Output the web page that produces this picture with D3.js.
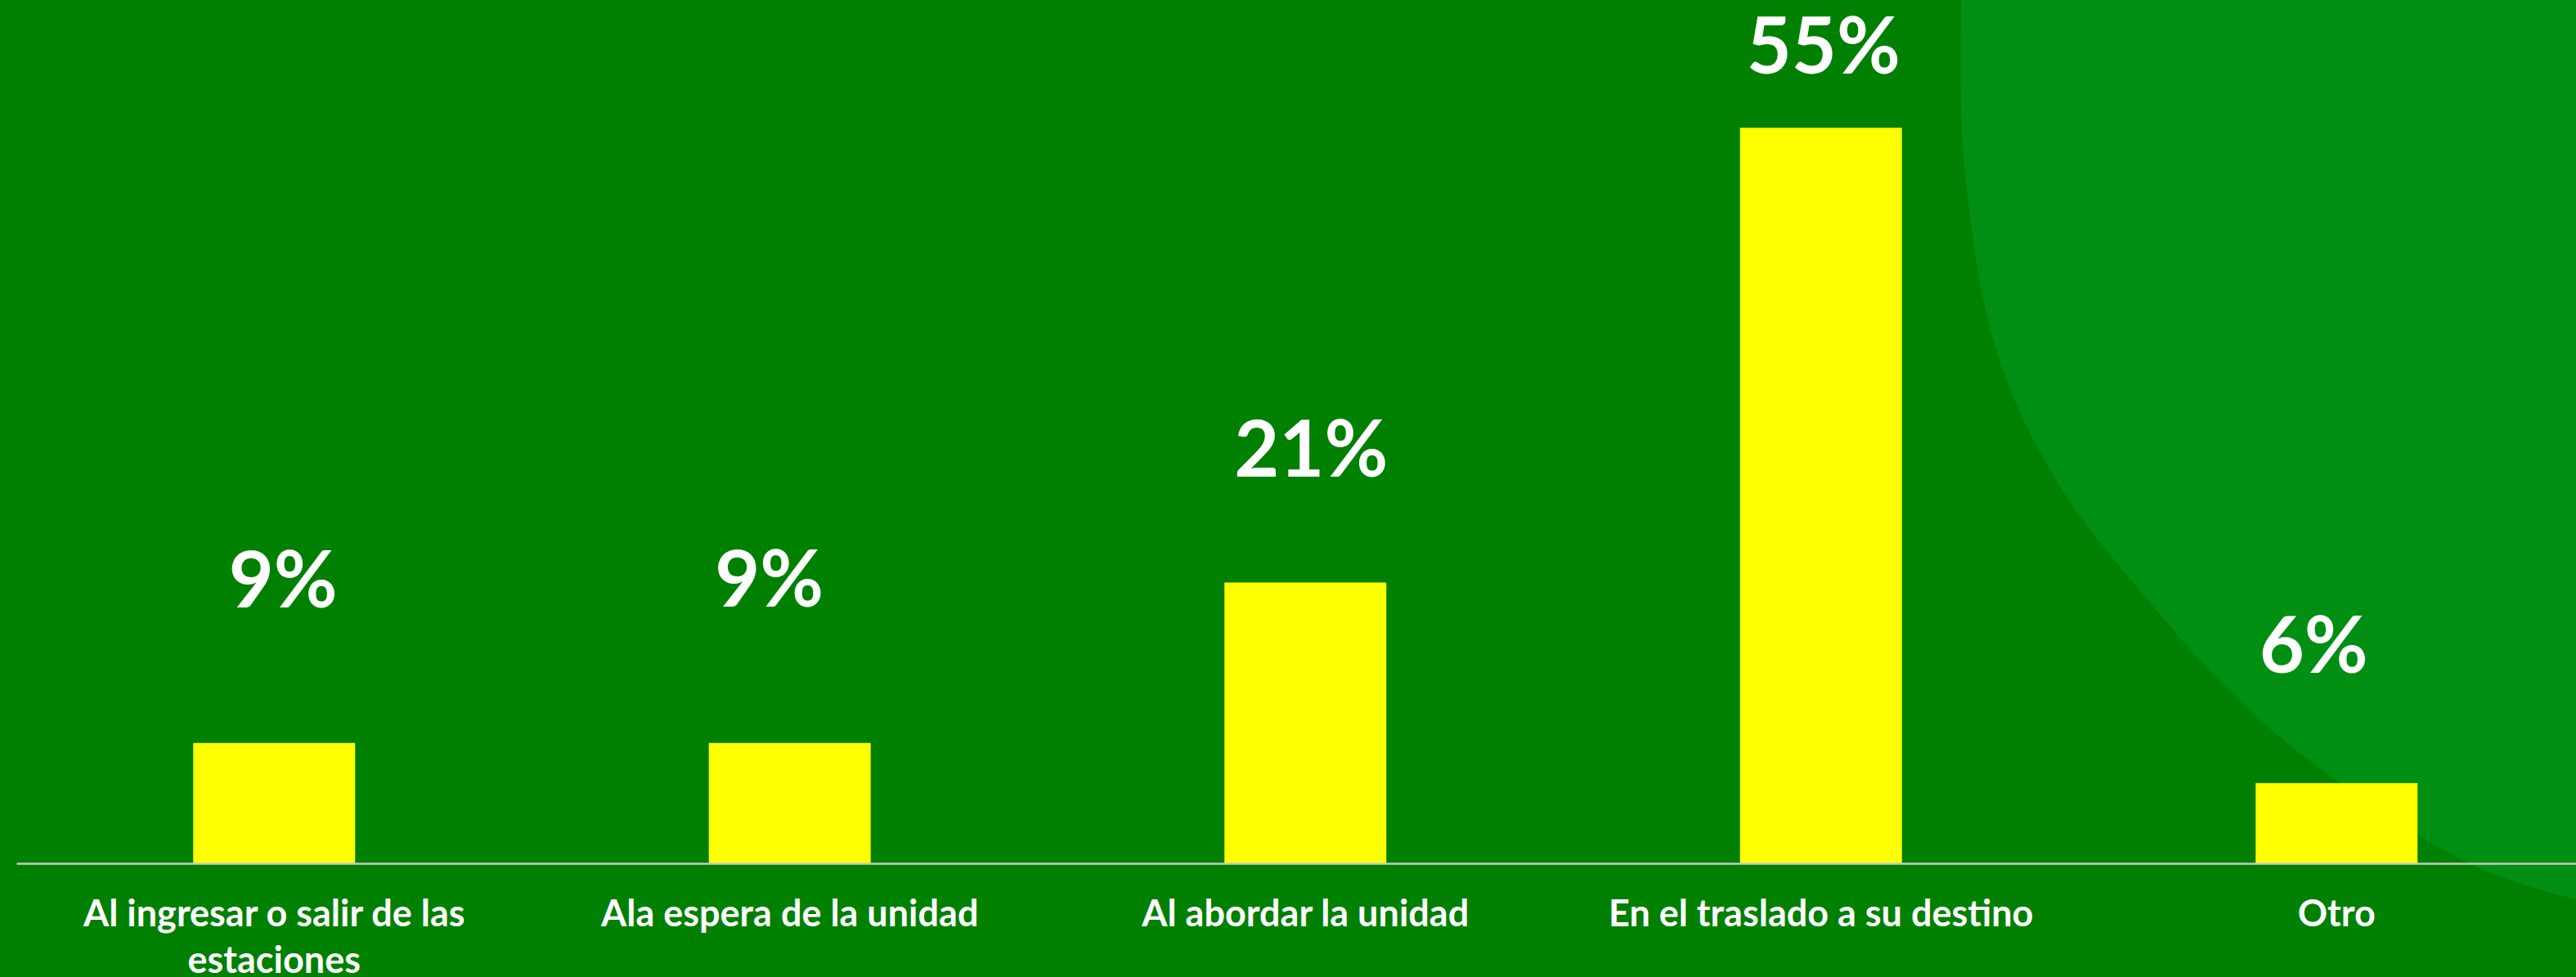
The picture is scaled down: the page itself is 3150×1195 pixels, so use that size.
<!DOCTYPE html>
<html>
<head>
<meta charset="utf-8">
<script src="https://cdn.jsdelivr.net/npm/d3@7"></script>
<style>
    html, body { margin: 0; padding: 0; background: #008000; overflow: hidden; }
    #chart svg { display: block; }
</style>
</head>
<body>
<div id="chart"></div>
<script>
// chart data
const categories = [
    "Al ingresar o salir de las estaciones",
    "Ala espera de la unidad",
    "Al abordar la unidad",
    "En el traslado a su destino",
    "Otro"
];
const values = [9, 9, 21, 55, 6];
const valueLabels = ["9%", "9%", "21%", "55%", "6%"];

// labels were dragged by hand in the original, keep their offsets
const labelDx = [11, -25, 7, 3, -28];
const labelLift = [166, 167, 129, 66, 135];

// decorative lighter shape in the background (top right)
const blobEdge = [
    [2398, 0], [2397, 115], [2400, 191], [2409, 268], [2420, 344], [2437, 421],
    [2465, 497], [2495, 555], [2522, 600], [2551, 643], [2600, 703], [2648, 760],
    [2705, 825], [2793, 910], [2900, 985], [3000, 1050], [3080, 1082], [3150, 1100]
];

function init() {
    const W = 3150, H = 1195;

    const svg = d3.select("#chart")
        .append("svg")
        .attr("width", W)
        .attr("height", H);

    svg.append("rect")
        .attr("width", W)
        .attr("height", H)
        .attr("fill", "#008000");

    // smooth open curve along the edge, then straight back over the corner
    const edgePath = d3.line().curve(d3.curveBasis)(blobEdge);
    svg.append("path")
        .attr("d", edgePath + "L3150,0Z")
        .attr("fill", "#008f12");

    // scales
    const xScale = d3.scaleBand()
        .domain(categories)
        .range([20, 3172.5])
        .paddingInner(0.686)
        .paddingOuter(0.343);

    const yScale = d3.scaleLinear()
        .domain([0, 60])
        .range([1056, 74.5]);

    // bars
    svg.selectAll(".bar")
        .data(values)
        .enter()
        .append("rect")
        .attr("class", "bar")
        .attr("x", (d, i) => xScale(categories[i]))
        .attr("y", d => yScale(d))
        .attr("width", xScale.bandwidth())
        .attr("height", d => yScale(0) - yScale(d))
        .attr("fill", "#ffff00");

    // x axis
    const xAxis = svg.append("g")
        .attr("class", "x axis")
        .attr("transform", `translate(0, ${yScale(0)})`)
        .call(d3.axisBottom(xScale).tickSize(0).tickPadding(0));

    xAxis.select(".domain")
        .attr("stroke", "#c8c8c8")
        .attr("stroke-width", 2.5);

    xAxis.selectAll("text")
        .attr("fill", "#ffffff")
        .style("font-family", "Lato, sans-serif")
        .style("font-weight", "bold")
        .style("font-size", "45px")
        .call(wrap, 560);

    // value labels
    svg.selectAll(".value")
        .data(values)
        .enter()
        .append("text")
        .attr("class", "value")
        .attr("x", (d, i) => xScale(categories[i]) + xScale.bandwidth() / 2 + labelDx[i])
        .attr("y", (d, i) => yScale(d) - labelLift[i])
        .attr("text-anchor", "middle")
        .attr("fill", "#ffffff")
        .style("font-family", "Lato, sans-serif")
        .style("font-weight", "bold")
        .style("font-size", "95px")
        .text((d, i) => valueLabels[i]);
}

// break tick labels on words, first baseline 77px below the axis
function wrap(texts, width) {
    texts.each(function () {
        const text = d3.select(this);
        const words = text.text().split(/\s+/);
        text.text(null).attr("y", 0).attr("dy", null);
        let line = [];
        let lineNo = 0;
        let tspan = text.append("tspan").attr("x", 0).attr("y", 77);
        words.forEach(w => {
            line.push(w);
            tspan.text(line.join(" "));
            if (tspan.node().getComputedTextLength() > width && line.length > 1) {
                line.pop();
                tspan.text(line.join(" "));
                line = [w];
                lineNo++;
                tspan = text.append("tspan").attr("x", 0).attr("y", 77 + lineNo * 57).text(w);
            }
        });
    });
}

window.onload = init;
</script>
</body>
</html>
